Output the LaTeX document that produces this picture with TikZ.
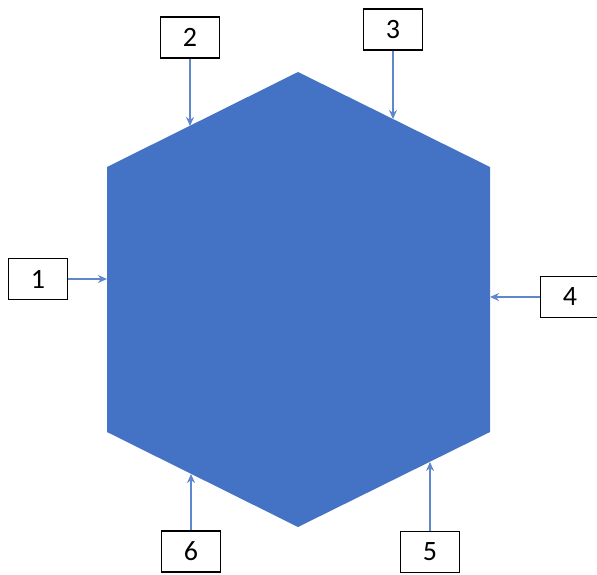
\documentclass[tikz,border=0pt]{standalone}
\usepackage{fontspec}
\setmainfont{Carlito}
\usepackage{tikz}
\usetikzlibrary{arrows.meta}
\definecolor{hexblue}{HTML}{4472C4}

\tikzset{
  numbox/.style={draw=black,line width=1.6pt,fill=white,minimum width=59pt,minimum height=41pt,inner sep=0pt,font=\fontsize{28}{32}\selectfont},
  feed/.style={draw=hexblue!85,line width=1.6pt,-{Stealth[length=9pt,width=8pt]}}
}

\begin{document}
\begin{tikzpicture}[x=1pt,y=-1pt]
  \useasboundingbox (0,0) rectangle (597,574);
  % hexagon
  \fill[hexblue] (298,72) -- (490,167) -- (490,432) -- (298,527) -- (107,432) -- (107,167) -- cycle;
  % points on the edges
  \coordinate (p1) at (107,279);
  \coordinate (p2) at (190,126);
  \coordinate (p3) at (393,119);
  \coordinate (p4) at (490,297);
  \coordinate (p5) at (430,462);
  \coordinate (p6) at (191,474);
  % numbered boxes
  \node[numbox] (b1) at (38,279) {1};
  \node[numbox] (b2) at (190,37.5) {2};
  \node[numbox] (b3) at (393,29.5) {3};
  \node[numbox] (b4) at (570,297) {4};
  \node[numbox] (b5) at (430,552) {5};
  \node[numbox] (b6) at (191,551.5) {6};
  \foreach \i in {1,...,6}{\draw[feed] (b\i) -- (p\i);}
\end{tikzpicture}
\end{document}
